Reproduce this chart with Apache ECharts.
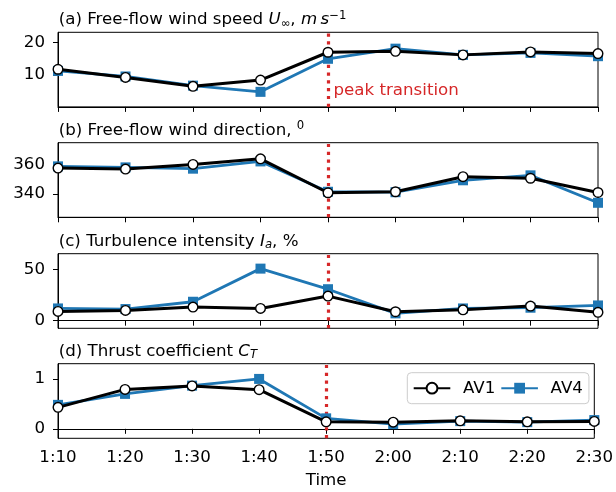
<!DOCTYPE html>
<html><head><meta charset="utf-8">
<script src="https://cdn.jsdelivr.net/npm/echarts@6/dist/echarts.min.js"></script>
<style>html,body{margin:0;padding:0;background:#fff}#c{width:616px;height:492px}</style>
</head><body><div id="c"></div>
<script>
// ---- data ----
const times = ['1:10','1:20','1:30','1:40','1:50','2:00','2:10','2:20','2:30'];
const speedAV1 = [11.8, 9.3, 6.6, 8.5, 17.0, 17.3, 16.2, 17.1, 16.6];
const speedAV4 = [11.3, 9.6, 6.8, 4.9, 15.0, 18.1, 16.2, 16.8, 15.8];
const dirAV1 = [357.7, 357.0, 360.2, 364.1, 340.7, 341.4, 351.8, 350.7, 340.9];
const dirAV4 = [358.9, 358.2, 357.3, 362.3, 341.4, 341.1, 349.3, 352.7, 333.8];
const tiAV1 = [9.0, 10.0, 13.2, 11.9, 23.9, 8.7, 10.6, 14.2, 8.1];
const tiAV4 = [11.9, 11.3, 18.4, 50.6, 30.6, 7.1, 11.9, 12.6, 14.8];
const ctAV1 = [0.43, 0.79, 0.86, 0.785, 0.14, 0.134, 0.16, 0.14, 0.148];
const ctAV4 = [0.48, 0.70, 0.865, 1.0, 0.21, 0.094, 0.154, 0.134, 0.175];
const yTicks = [[10, 20], [340, 360], [0, 50], [0, 1]];
const yRanges = [[0.3, 23.1], [323.8, 375.2], [-7.4, 65.1], [-0.19, 1.305]];
const peakTime = '1:50';
const seriesNames = ['AV1', 'AV4'];
const panelTitles = [
  '(a) Free-flow wind speed {it|U}{sub|∞}, {it|m\u2009s}{sup|−1}',
  '(b) Free-flow wind direction, {sup|0}',
  '(c) Turbulence intensity {it|I}{subi|a}, %',
  '(d) Thrust coefficient {it|C}{subi|T}'
];
const panels = [[speedAV1, speedAV4], [dirAV1, dirAV4], [tiAV1, tiAV4], [ctAV1, ctAV4]];

// ---- layout ----
const FONT = 'DejaVu Sans';
const FS = 16.67;
const tops = [32.3, 142.7, 253.7, 363.7];
const H = 74.6, LEFT = 58, RIGHT = 18;
const BLUE = '#1f77b4', RED = '#d62728';

const grid = [], xAxis = [], yAxis = [], series = [], graphic = [];
panels.forEach((p, i) => {
  grid.push({left: LEFT, right: RIGHT, top: tops[i], height: H, show: true,
    borderColor: '#000', borderWidth: 1, backgroundColor: 'transparent'});
  xAxis.push({type: 'category', data: times, gridIndex: i, boundaryGap: false,
    axisLine: {lineStyle: {color: '#000', width: 1}},
    axisTick: {show: true, length: 5, lineStyle: {color: '#000', width: 1}},
    axisLabel: {show: i === 3, color: '#000', fontSize: FS, fontFamily: FONT, margin: 11},
    splitLine: {show: false},
    name: i === 3 ? 'Time' : '', nameLocation: 'middle', nameGap: 34,
    nameTextStyle: {color: '#000', fontSize: FS, fontFamily: FONT}});
  yAxis.push({type: 'value', gridIndex: i, min: yRanges[i][0], max: yRanges[i][1],
    axisLine: {show: true, lineStyle: {color: '#000', width: 1}},
    axisTick: {show: true, length: 5, lineStyle: {color: '#000', width: 1}, customValues: yTicks[i]},
    axisLabel: {color: '#000', fontSize: FS, fontFamily: FONT, margin: 13, customValues: yTicks[i]},
    splitLine: {show: false}});
  series.push({name: seriesNames[1], type: 'line', xAxisIndex: i, yAxisIndex: i, data: p[1],
    symbol: 'rect', symbolSize: 10, z: 2, animation: false, silent: true,
    itemStyle: {color: BLUE}, lineStyle: {color: BLUE, width: 2.8},
    markLine: {z: 1, silent: true, symbol: 'none', label: {show: false}, animation: false,
      lineStyle: {color: RED, width: 3.2, type: [3.2, 4.6]}, data: [{xAxis: peakTime}]}});
  series.push({name: seriesNames[0], type: 'line', xAxisIndex: i, yAxisIndex: i, data: p[0],
    symbol: 'circle', symbolSize: 9.6, z: 3, animation: false, silent: true,
    itemStyle: {color: '#fff', borderColor: '#000', borderWidth: 1.4},
    lineStyle: {color: '#000', width: 3}});
  graphic.push({type: 'text', x: 58.7, y: tops[i] - 12.3,
    style: {text: panelTitles[i], fill: '#000', font: FS + 'px "DejaVu Sans"',
      textAlign: 'left', textVerticalAlign: 'middle', lineHeight: 20,
      rich: {
        it: {fontStyle: 'italic', fontSize: FS, fontFamily: FONT, lineHeight: 20},
        sub: {fontSize: 11.7, fontFamily: FONT, verticalAlign: 'bottom', lineHeight: 13},
        subi: {fontSize: 11.7, fontStyle: 'italic', fontFamily: FONT, verticalAlign: 'bottom', lineHeight: 13},
        sup: {fontSize: 11.7, fontFamily: FONT, verticalAlign: 'top', lineHeight: 12}
      }}});
});
graphic.push({type: 'text', x: 333.5, y: 91,
  style: {text: 'peak transition', fill: RED, font: FS + 'px "DejaVu Sans"', textAlign: 'left', textVerticalAlign: 'middle'}});

const chart = echarts.init(document.getElementById('c'), null, {renderer: 'canvas'});
chart.setOption({
  animation: false,
  backgroundColor: '#fff',
  grid, xAxis, yAxis, series, graphic,
  legend: {data: seriesNames, left: 407.3, top: 372.7, orient: 'horizontal',
    itemWidth: 36.6, itemHeight: 13.5, itemGap: 5,
    padding: [7, 6, 7, 5.4], backgroundColor: 'rgba(255,255,255,0.8)',
    borderColor: '#cccccc', borderWidth: 1, borderRadius: 4,
    textStyle: {color: '#000', fontSize: FS, fontFamily: FONT, lineHeight: 16, padding: [0, 0, 0, 7.7]},
    selectedMode: false}
});
</script></body></html>
